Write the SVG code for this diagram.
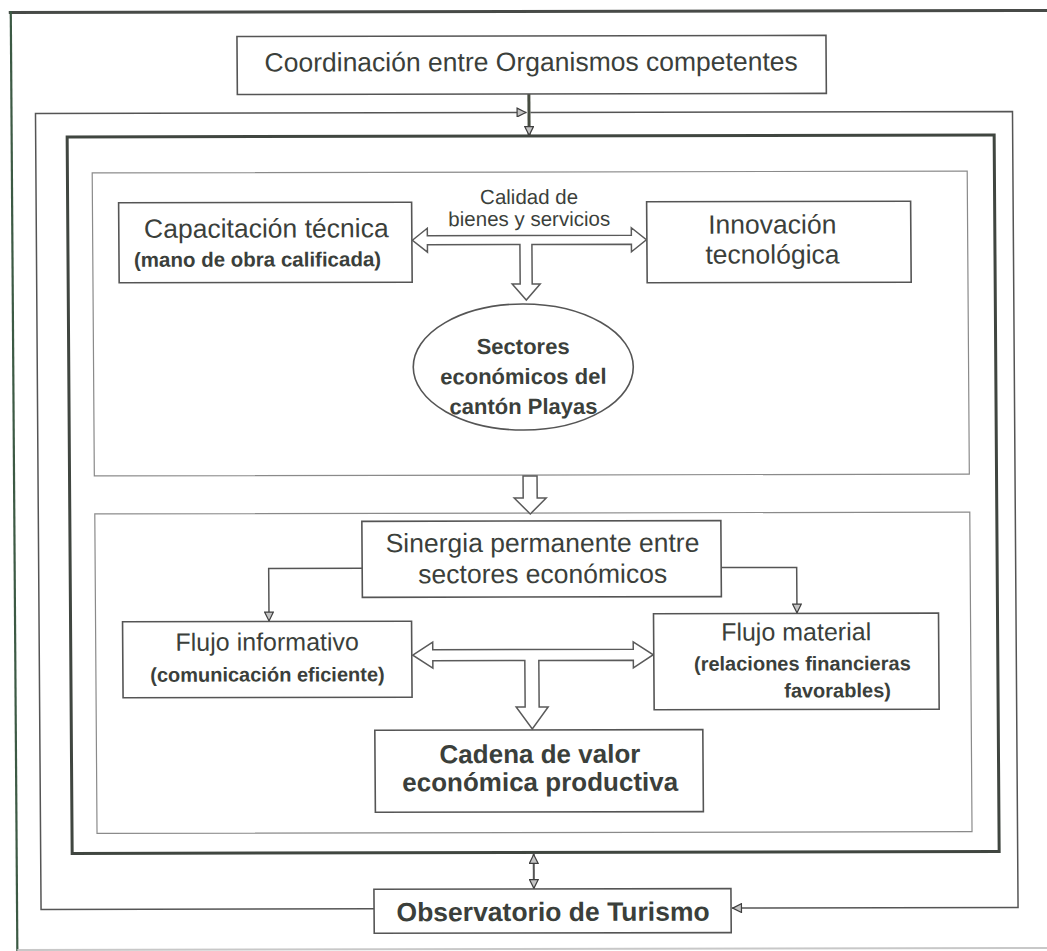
<svg xmlns="http://www.w3.org/2000/svg" width="1047" height="951" viewBox="0 0 1047 951">
<defs>
<style>
.t{font-family:"Liberation Sans",Arial,sans-serif;fill:#3b3f3b;text-anchor:middle}
.b{font-weight:bold}
.box{fill:#fff;stroke:#555;stroke-width:1.6}
.panel{fill:none;stroke:#8a8a8a;stroke-width:1.2}
.conn{fill:none;stroke:#555;stroke-width:1.5}
.hollow{fill:#fff;stroke:#5a5a5a;stroke-width:1.5;stroke-linejoin:miter}
</style>
<marker id="ah" viewBox="0 0 10 10" refX="10" refY="5" markerWidth="11" markerHeight="10" markerUnits="userSpaceOnUse" orient="auto-start-reverse">
<path d="M0.6,0.6 L9.4,5 L0.6,9.4 z" fill="#c4c4c4" stroke="#3f3f3f" stroke-width="1.2"/>
</marker>
</defs>
<rect x="0" y="0" width="1047" height="951" fill="#fff"/>
<g transform="matrix(1 -0.002 0.007 1 -3.3 1.05)">
<g id="frame">
<line x1="12" y1="11.5" x2="1060" y2="11.5" stroke="#474a47" stroke-width="3"/>
<line x1="14" y1="10" x2="14" y2="951" stroke="#3c5a44" stroke-width="2.2"/>
<line x1="14" y1="949" x2="1060" y2="949" stroke="#c8c8c8" stroke-width="2"/>
</g>
<g id="main-box">
<rect x="69.5" y="136" width="927" height="716.5" fill="none" stroke="#404640" stroke-width="3"/>
</g>
<g id="upper-panel">
<rect x="94.3" y="172" width="875" height="303" class="panel"/>
</g>
<g id="lower-panel">
<rect x="94.5" y="513" width="875" height="319.5" class="panel"/>
</g>
<g id="connectors">
<polyline class="conn" points="371,908.5 38,908.5 38,112.5 529,112.5" stroke="#8a7a7a" marker-end="url(#ah)"/>
<polyline class="conn" points="533,112.5 1015,112.5 1015,908.5 729,908.5" stroke="#777" marker-end="url(#ah)"/>
<line x1="531.5" y1="94" x2="531.5" y2="136" stroke="#464c40" stroke-width="3" marker-end="url(#ah)"/>
<line x1="531" y1="854" x2="531" y2="889" stroke="#555" stroke-width="2" marker-start="url(#ah)" marker-end="url(#ah)"/>
<path class="hollow" d="M414,240 L429,228 L429,235.5 L633,235.5 L633,228 L648,240 L633,252 L633,244.5 L533.5,244.5 L533.5,284 L541.5,284 L527.5,300 L513.5,284 L521.5,284 L521.5,244.5 L429,244.5 L429,252 Z"/>
<path class="hollow" d="M523,476 L537,476 L537,498 L546,498 L530,514 L514,498 L523,498 Z"/>
<polyline class="conn" points="361.5,568 268,568 268,621" marker-end="url(#ah)"/>
<polyline class="conn" points="720.5,568 796,568 796,614" marker-end="url(#ah)"/>
<path class="hollow" d="M411.5,655 L431.5,642 L431.5,649.5 L632,649.5 L632,642 L652,655 L632,668 L632,660.5 L537.5,660.5 L537.5,707 L546.5,707 L530.5,729 L514.5,707 L523.5,707 L523.5,660.5 L431.5,660.5 L431.5,668 Z"/>
</g>
<g id="coordinacion">
<rect class="box" x="240" y="36" width="589" height="58"/>
<text class="t" x="534" y="71" font-size="26.5">Coordinación entre Organismos competentes</text>
</g>
<g id="capacitacion">
<rect class="box" x="120.5" y="202" width="293" height="80"/>
<text class="t" x="268" y="237" font-size="26.5">Capacitación técnica</text>
<text class="t b" x="259" y="266" font-size="20.5">(mano de obra calificada)</text>
</g>
<g id="calidad">
<text class="t" x="531" y="204" font-size="20.5">Calidad de</text>
<text class="t" x="531" y="226" font-size="20.5">bienes y servicios</text>
</g>
<g id="innovacion">
<rect class="box" x="648.5" y="202" width="264" height="81"/>
<text class="t" x="774" y="234" font-size="26.5">Innovación</text>
<text class="t" x="774" y="264" font-size="26.5">tecnológica</text>
</g>
<g id="sectores">
<ellipse cx="524" cy="367" rx="110" ry="63" fill="#fff" stroke="#555" stroke-width="1.6"/>
<text class="t b" x="524" y="354" font-size="22">Sectores</text>
<text class="t b" x="524" y="384" font-size="22">económicos del</text>
<text class="t b" x="524" y="414" font-size="22">cantón Playas</text>
</g>
<g id="sinergia">
<rect class="box" x="361.5" y="521" width="359" height="76"/>
<text class="t" x="542" y="552" font-size="26.5">Sinergia permanente entre</text>
<text class="t" x="542" y="583" font-size="26.5">sectores económicos</text>
</g>
<g id="flujo-informativo">
<rect class="box" x="121.5" y="621" width="289" height="76"/>
<text class="t" x="266" y="650" font-size="25">Flujo informativo</text>
<text class="t b" x="266" y="681" font-size="20">(comunicación eficiente)</text>
</g>
<g id="flujo-material">
<rect class="box" x="652.5" y="614" width="285" height="96"/>
<text class="t" x="795" y="641" font-size="25">Flujo material</text>
<text class="t b" x="801" y="671" font-size="20">(relaciones financieras</text>
<text class="t b" x="836" y="698" font-size="20">favorables)</text>
</g>
<g id="cadena">
<rect class="box" x="373" y="730" width="328" height="82"/>
<text class="t b" x="538" y="763" font-size="26">Cadena de valor</text>
<text class="t b" x="538" y="791" font-size="26">económica productiva</text>
</g>
<g id="observatorio">
<rect class="box" x="371" y="889" width="357" height="44"/>
<text class="t b" x="550" y="921" font-size="26.5">Observatorio de Turismo</text>
</g>
</g>
</svg>
